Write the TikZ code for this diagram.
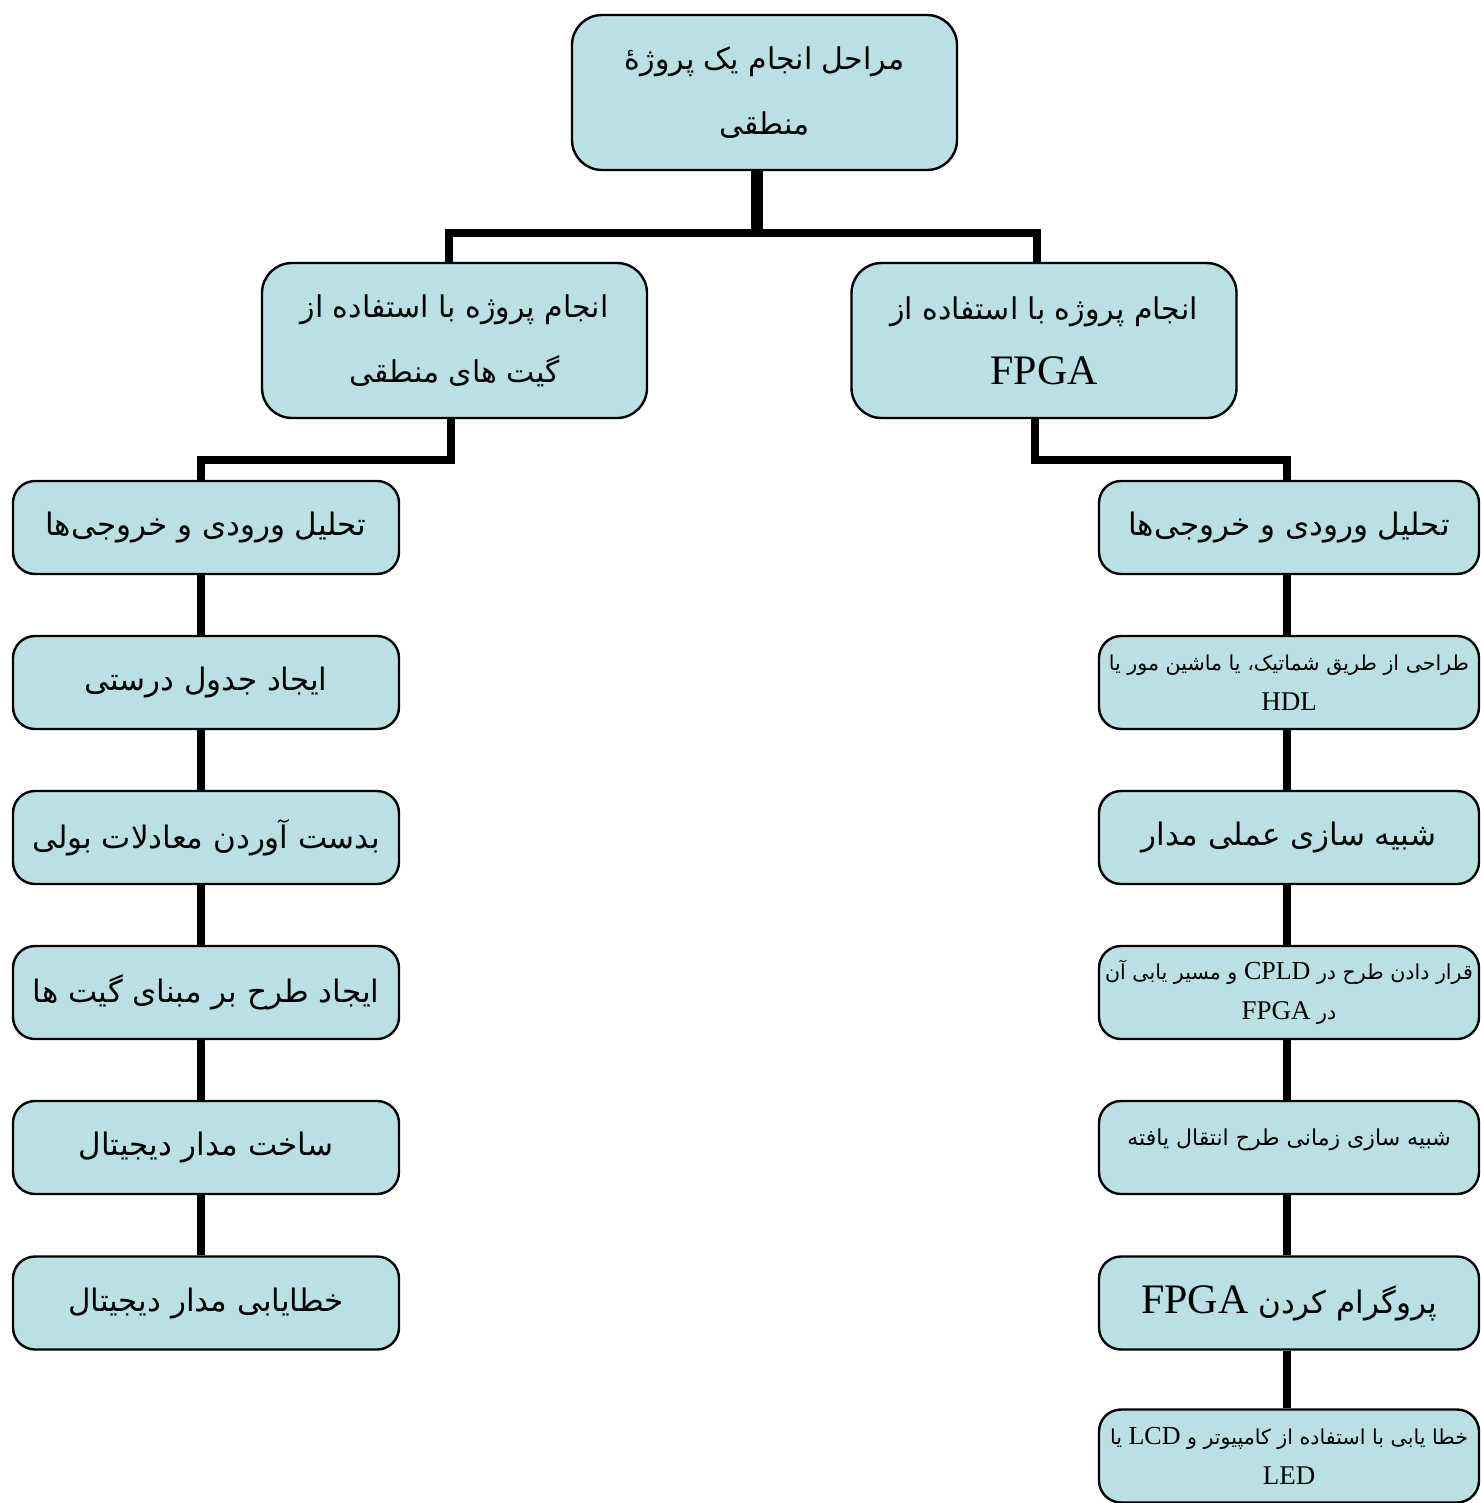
\documentclass[tikz,border=0pt]{standalone}
\usepackage{fontspec}
\TeXXeTstate=1
\newfontfamily\fafont[Script=Arabic]{DejaVu Sans}
\newfontfamily\enfont{Liberation Serif}
\newcommand\fatxt[1]{{\fafont\beginR #1\endR}}
\newcommand\entxt[1]{\beginL{\enfont #1}\endL{}}
\definecolor{boxfill}{HTML}{BBE0E3}
\tikzset{
  x=0.5pt, y=-0.5pt,
  basebox/.style={draw=black, fill=boxfill, line width=1.2pt, inner sep=0pt, align=center},
  bigbox/.style={basebox, minimum width=192.5pt, minimum height=77.5pt, rounded corners=15pt,
     font=\fontsize{15}{32.5}\selectfont},
  colbox/.style={basebox, minimum width=193pt, minimum height=46.5pt, rounded corners=11pt,
     font=\fontsize{15.5}{30}\selectfont},
  rcolbox/.style={colbox, minimum width=190pt},
  smalltxt/.style={font=\fontsize{10.3}{20}\selectfont},
  conn/.style={draw=black, line width=4pt, line join=miter},
  thickconn/.style={draw=black, line width=6pt},
}
\begin{document}
\begin{tikzpicture}
\useasboundingbox (0,0) rectangle (1481,1503);
% top
\node[bigbox] (top) at (764.5,92.5) {\fatxt{مراحل انجام یک پروژهٔ}\\ \fatxt{منطقی}};
% level 2
\node[bigbox] (l2) at (454.5,340.5) {\fatxt{انجام پروژه با استفاده از}\\ \fatxt{گیت های منطقی}};
\node[bigbox] (r2) at (1044,340.5) {\fatxt{انجام پروژه با استفاده از}\\ {\enfont\fontsize{21}{32.5}\selectfont FPGA}};
% left column
\node[colbox] (L1) at (206,527.5) {\fatxt{تحلیل ورودی و خروجی‌ها}};
\node[colbox] (L2) at (206,682.5) {\fatxt{ایجاد جدول درستی}};
\node[colbox] (L3) at (206,837.5) {\fatxt{بدست آوردن معادلات بولی}};
\node[colbox] (L4) at (206,992.5) {\fatxt{ایجاد طرح بر مبنای گیت ها}};
\node[colbox] (L5) at (206,1147.5) {\fatxt{ساخت مدار دیجیتال}};
\node[colbox] (L6) at (206,1303) {\fatxt{خطایابی مدار دیجیتال}};
% right column
\node[rcolbox] (R1) at (1289,527.5) {\fatxt{تحلیل ورودی و خروجی‌ها}};
\node[rcolbox, smalltxt] (R2) at (1289,682.5) {\fatxt{طراحی از طریق شماتیک، یا ماشین مور یا}\\ {\enfont\fontsize{13.5}{20}\selectfont HDL}};
\node[rcolbox] (R3) at (1289,837.5) {\fatxt{شبیه سازی عملی مدار}};
\node[rcolbox, smalltxt] (R4) at (1289,992.5) {\fatxt{قرار دادن طرح در {\fontsize{13}{20}\selectfont\entxt{CPLD}} و مسیر یابی آن}\\ \fatxt{در {\fontsize{13.5}{20}\selectfont\entxt{FPGA}}}};
\node[rcolbox, font=\fontsize{11}{20}\selectfont] (R5) at (1289,1147.5) {\raisebox{10pt}{\fatxt{شبیه سازی زمانی طرح انتقال یافته}}};
\node[rcolbox] (R6) at (1289,1303) {\fatxt{پروگرام کردن {\fontsize{21}{30}\selectfont\entxt{FPGA}}}};
\node[rcolbox, smalltxt] (R7) at (1289,1456) {\fatxt{خطا یابی با استفاده از کامپیوتر و {\fontsize{13}{20}\selectfont\entxt{LCD}} یا}\\ {\enfont\fontsize{13.5}{20}\selectfont LED}};
% connectors top
\coordinate (bar) at (757,233);
\coordinate (lj) at (451,460);
\coordinate (rj) at (1035,460);
\draw[thickconn] ([xshift=-3.75pt]top.south) -- (bar);
\draw[conn] ([xshift=-2.75pt]l2.north) |- (bar) -| ([xshift=-3.5pt]r2.north);
\draw[conn] ([xshift=-1.75pt]l2.south) -- (lj) -| ([xshift=-2.5pt]L1.north);
\draw[conn] ([xshift=-4.5pt]r2.south) -- (rj) -| ([xshift=-1pt]R1.north);
% column connectors
\foreach \a/\b in {L1/L2,L2/L3,L3/L4,L4/L5,L5/L6}
  \draw[conn] ([xshift=-2.5pt]\a.south) -- ([xshift=-2.5pt]\b.north);
\foreach \a/\b in {R1/R2,R2/R3,R3/R4,R4/R5,R5/R6,R6/R7}
  \draw[conn] ([xshift=-1pt]\a.south) -- ([xshift=-1pt]\b.north);
\end{tikzpicture}
\end{document}
